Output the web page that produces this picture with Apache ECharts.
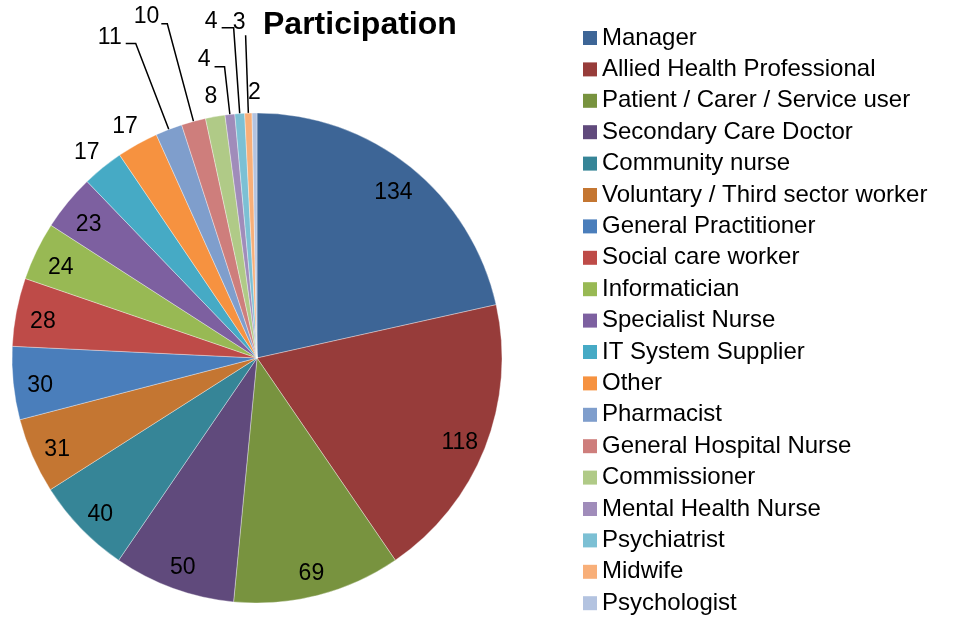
<!DOCTYPE html>
<html>
<head>
<meta charset="utf-8">
<title>Participation</title>
<script src="https://cdn.jsdelivr.net/npm/echarts@6/dist/echarts.min.js"></script>
<style>
  html, body { margin: 0; padding: 0; background: #fff; }
  #main { width: 955px; height: 617px; }
</style>
</head>
<body>
<div id="main"></div>
<script>
// roles and how many took part
const roles = [
  'Manager', 'Allied Health Professional', 'Patient / Carer / Service user',
  'Secondary Care Doctor', 'Community nurse', 'Voluntary / Third sector worker',
  'General Practitioner', 'Social care worker', 'Informatician', 'Specialist Nurse',
  'IT System Supplier', 'Other', 'Pharmacist', 'General Hospital Nurse',
  'Commissioner', 'Mental Health Nurse', 'Psychiatrist', 'Midwife', 'Psychologist'
];
const counts = [134, 118, 69, 50, 40, 31, 30, 28, 24, 23, 17, 17, 11, 10, 8, 4, 4, 3, 2];

// excel style palette: dark, normal, light
const palette = [
  '#3D6596', '#973C3A', '#78933F', '#604A7C', '#368597', '#C47632',
  '#4A7EBB', '#BE4B48', '#98B954', '#7D60A0', '#46AAC5', '#F69240',
  '#7F9ECC', '#CE7E7C', '#B0CA87', '#A08CBA', '#7CC0D4', '#F8AF79',
  '#B3C3E0'
];

// labels just outside the pie, no line
const outerLabels = ['IT System Supplier', 'Other', 'Commissioner', 'Psychologist'];
// labels with leader lines (lift = empty line under the text, pushes it up)
const leaderLabels = {
  'Pharmacist': {length: 92, length2: 10, gap: 4, lift: 12},
  'General Hospital Nurse': {length: 101, length2: 6, gap: 2, lift: 14},
  'Mental Health Nurse': {length: 48, length2: 10, gap: 4, lift: 14},
  'Psychiatrist': {length: 86, length2: 12, gap: 4, lift: 12},
  'Midwife': {length: 78, length2: 0, gap: 0, lift: 26}
};

const font = 'Liberation Sans';
const center = [257, 358];
const R = 245;
const numStyle = {fontSize: 23, color: '#000', fontFamily: font, lineHeight: 24};

const mainData = roles.map((name, i) => {
  let item = {name: name, value: counts[i]};
  let l = leaderLabels[name];
  if (l) {
    item.label = {
      show: true,
      position: 'outside',
      distanceToLabelLine: l.gap,
      formatter: '{v|{c}}\n{g|}',
      rich: {v: numStyle, g: {height: l.lift, lineHeight: l.lift}}
    };
    item.labelLine = {show: true, length: l.length, length2: l.length2};
  }
  return item;
});
const innerData = roles.map((name, i) => ({name: name, value: counts[i], label: {show: counts[i] >= 20}}));
const outerData = roles.map((name, i) => ({name: name, value: counts[i], label: {show: outerLabels.includes(name)}}));

// empty line above the number drops it a few px, like excel does
const ringLabel = {
  position: 'inside',
  formatter: '{g|}\n{v|{c}}',
  rich: {v: numStyle, g: {height: 10, lineHeight: 10}}
};
const ghost = {color: 'rgba(0,0,0,0)', borderWidth: 0};
const noHide = {hideOverlap: false, moveOverlap: null};

let myChart = echarts.init(document.getElementById('main'));
myChart.setOption({
  animation: false,
  title: {
    text: 'Participation',
    left: 258,
    top: 4,
    textStyle: {fontSize: 32, fontWeight: 'bold', color: '#000', fontFamily: font}
  },
  legend: {
    orient: 'vertical',
    left: 583,
    top: 26,
    padding: 0,
    icon: 'rect',
    itemWidth: 14,
    itemHeight: 14,
    itemGap: 7.4,
    data: roles,
    itemStyle: {borderWidth: 0},
    textStyle: {fontSize: 24, lineHeight: 24, color: '#000', fontFamily: font}
  },
  series: [
    {
      name: 'main',
      type: 'pie',
      center: center,
      radius: R,
      startAngle: 90,
      clockwise: true,
      avoidLabelOverlap: false,
      color: palette,
      itemStyle: {borderColor: 'rgba(255,255,255,0.5)', borderWidth: 0.7},
      label: {show: false},
      labelLine: {lineStyle: {color: '#000', width: 1.5}},
      labelLayout: noHide,
      emphasis: {disabled: true},
      data: mainData
    },
    {
      name: 'inner labels',
      type: 'pie',
      silent: true,
      center: center,
      radius: [185, R],
      startAngle: 90,
      avoidLabelOverlap: false,
      itemStyle: ghost,
      label: ringLabel,
      labelLayout: noHide,
      emphasis: {disabled: true},
      data: innerData
    },
    {
      name: 'outer labels',
      type: 'pie',
      silent: true,
      center: center,
      radius: [R, 290],
      startAngle: 90,
      avoidLabelOverlap: false,
      itemStyle: ghost,
      label: ringLabel,
      labelLayout: noHide,
      emphasis: {disabled: true},
      data: outerData
    }
  ]
});
</script>
</body>
</html>
